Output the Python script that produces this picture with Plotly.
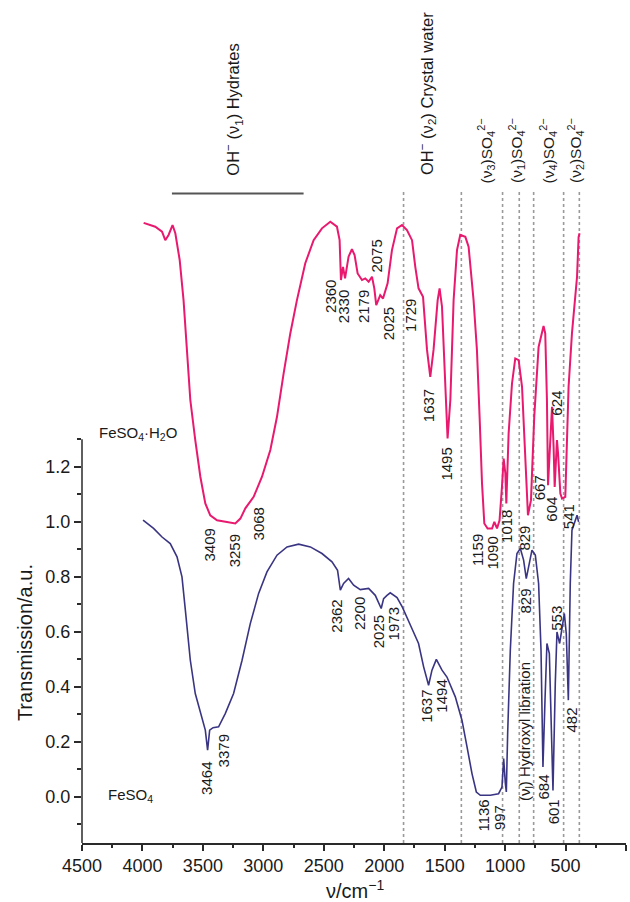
import plotly.graph_objects as go

# ---------------- data ----------------
h2o_wn = [3990, 3894, 3838, 3811, 3784, 3751, 3728, 3692, 3660, 3631, 3604, 3563, 3521, 3480, 3439,
          3383, 3300, 3232, 3190, 3149, 3080, 3011, 2942, 2887, 2832, 2777, 2722, 2653, 2584, 2515,
          2446, 2391, 2369, 2358, 2341, 2324, 2295, 2267, 2245, 2220, 2184, 2157, 2129, 2101, 2082,
          2066, 2033, 2010, 1972, 1936, 1894, 1853, 1812, 1770, 1743, 1716, 1679, 1646, 1619, 1592,
          1558, 1542, 1522, 1495, 1476, 1453, 1426, 1398, 1371, 1329, 1302, 1261, 1233, 1211, 1191,
          1172, 1145, 1108, 1089, 1067, 1046, 1026, 1012, 998, 990, 971, 943, 916, 888, 860,
          833, 811, 786, 759, 723, 695, 682, 668, 654, 645, 626, 612, 599, 590, 571,
          562, 543, 529, 502, 475, 447, 419, 405, 392, 384]
h2o_t = [2.087, 2.073, 2.055, 2.024, 2.043, 2.079, 2.049, 1.952, 1.806, 1.625, 1.443, 1.297, 1.164, 1.067, 1.024,
         1.006, 1.000, 0.994, 1.012, 1.049, 1.091, 1.164, 1.261, 1.382, 1.540, 1.685, 1.806, 1.940, 2.024, 2.067,
         2.091, 2.073, 2.024, 1.879, 1.927, 1.885, 1.964, 1.991, 1.970, 1.903, 1.879, 1.885, 1.873, 1.891, 1.849,
         1.788, 1.824, 1.812, 1.867, 1.988, 2.067, 2.079, 2.061, 2.024, 1.927, 1.849, 1.818, 1.625, 1.527, 1.625,
         1.806, 1.849, 1.782, 1.503, 1.303, 1.443, 1.806, 1.988, 2.043, 2.036, 2.000, 1.806, 1.625, 1.382, 1.140,
         0.994, 0.976, 0.976, 1.000, 0.976, 1.006, 1.127, 1.230, 1.176, 1.067, 1.321, 1.503, 1.594, 1.588, 1.491,
         1.200, 1.024, 1.079, 1.382, 1.636, 1.685, 1.712, 1.685, 1.443, 1.133, 1.321, 1.418, 1.273, 1.127, 1.297,
         1.249, 1.103, 1.085, 1.091, 1.491, 1.685, 1.831, 1.891, 2.036, 2.049]

fe_wn = [3995, 3908, 3838, 3770, 3714, 3673, 3645, 3604, 3563, 3516, 3480, 3461, 3444, 3416, 3370,
         3315, 3246, 3176, 3108, 3039, 2970, 2887, 2804, 2708, 2611, 2515, 2432, 2386, 2363, 2336,
         2295, 2253, 2198, 2129, 2074, 2025, 2005, 1977, 1950, 1894, 1850, 1784, 1716, 1674, 1633,
         1605, 1569, 1522, 1481, 1412, 1357, 1315, 1274, 1238, 1205, 1123, 1054, 1026, 1012, 998,
         990, 979, 957, 930, 902, 874, 847, 825, 797, 778, 750, 723, 703, 687, 670,
         654, 634, 620, 604, 585, 571, 549, 529, 510, 494, 477, 461, 447, 428, 405, 392]
fe_t = [1.006, 0.976, 0.945, 0.921, 0.873, 0.800, 0.679, 0.497, 0.376, 0.303, 0.243, 0.170, 0.243, 0.252, 0.255,
        0.303, 0.376, 0.497, 0.630, 0.740, 0.818, 0.879, 0.909, 0.919, 0.909, 0.885, 0.855, 0.824, 0.752, 0.776,
        0.794, 0.770, 0.754, 0.758, 0.733, 0.685, 0.721, 0.733, 0.742, 0.725, 0.690, 0.625, 0.558, 0.473, 0.406,
        0.461, 0.500, 0.461, 0.436, 0.364, 0.279, 0.182, 0.085, 0.018, 0.006, 0.006, 0.012, 0.036, 0.140, 0.049,
        0.018, 0.230, 0.533, 0.776, 0.885, 0.903, 0.861, 0.794, 0.855, 0.897, 0.879, 0.776, 0.533, 0.109, 0.352,
        0.558, 0.521, 0.291, 0.024, 0.412, 0.600, 0.558, 0.624, 0.667, 0.594, 0.352, 0.776, 0.970, 0.994, 1.024, 1.000]

band_lines = [1840, 1362, 1021, 883, 764, 516, 386]
x_tick_vals = [4500, 4000, 3500, 3000, 2500, 2000, 1500, 1000, 500, 0]
x_minor_vals = [4250, 3750, 3250, 2750, 2250, 1750, 1250, 750, 250]
y_tick_vals = [0.0, 0.2, 0.4, 0.6, 0.8, 1.0, 1.2]
y_minor_vals = [-0.1, 0.1, 0.3, 0.5, 0.7, 0.9, 1.1, 1.3]

h2o_labels = ["3409", "3259", "3068", "2360", "2330", "2179", "2075", "2025", "1729", "1637",
              "1495", "1159", "1090", "1018", "829", "667", "604", "541", "624"]
fe_labels = ["3464", "3379", "2362", "2200", "2025", "1973", "1637", "1494", "1136", "997",
             "829", "553", "684", "601", "482"]

# label placements (x in cm^-1, top of text in transmission units)
h2o_label_pos = [(3443, 0.984), (3236, 0.963), (3037, 1.061), (2446, 1.886), (2336, 1.850),
                 (2171, 1.850), (2060, 2.035), (1964, 1.788), (1784, 1.817), (1633, 1.490),
                 (1481, 1.279), (1233, 0.963), (1100, 0.952), (990, 1.050), (837, 0.995),
                 (715, 1.177), (612, 1.097), (475, 1.072), (571, 1.486)]
fe_label_pos = [(3466, 0.133), (3329, 0.235), (2391, 0.726), (2198, 0.733), (2047, 0.668),
                (1922, 0.697), (1646, 0.395), (1522, 0.432), (1180, -0.001), (1040, -0.023),
                (829, 0.766), (571, 0.704), (682, 0.089), (599, -0.001), (447, 0.334)]

PINK = "#e8196e"
NAVY = "#3a3583"
FONT = "Liberation Sans, Arial, Helvetica, sans-serif"
INK = "#1a1a1a"

fig = go.Figure()

# dotted band lines
for wn in band_lines:
    fig.add_shape(type="line", x0=wn, x1=wn, y0=-0.1673, y1=2.2, xref="x", yref="y",
                  line=dict(color="#9a9a9a", width=1.6, dash="dot"), layer="below")

fig.add_trace(go.Scatter(x=h2o_wn, y=h2o_t, mode="lines", line=dict(color=PINK, width=2),
                         showlegend=False, hoverinfo="skip"))
fig.add_trace(go.Scatter(x=fe_wn, y=fe_t, mode="lines", line=dict(color=NAVY, width=1.6),
                         showlegend=False, hoverinfo="skip"))

# y-axis line (partial)
fig.add_shape(type="line", x0=0, x1=0, xref="paper", y0=-0.1673, y1=1.30, yref="y",
              line=dict(color="#2a2a2a", width=1.5))
# hydrates bar
fig.add_shape(type="line", x0=3756, x1=2667, y0=2.194, y1=2.194, xref="x", yref="y",
              line=dict(color="#555555", width=2))

ann = []
lab_font = dict(family=FONT, size=15, color=INK)
for txt, (x, y) in zip(h2o_labels, h2o_label_pos):
    ann.append(dict(x=x, y=y, text=txt, textangle=-90, showarrow=False,
                    xanchor="center", yanchor="top", font=lab_font))
for txt, (x, y) in zip(fe_labels, fe_label_pos):
    ann.append(dict(x=x, y=y, text=txt, textangle=-90, showarrow=False,
                    xanchor="center", yanchor="top", font=lab_font))

ann.append(dict(x=833, y=0.497, text="(ν<sub>l</sub>) Hydroxyl libration", textangle=-90,
                showarrow=False, xanchor="center", yanchor="top", font=lab_font))

top_font = dict(family=FONT, size=16.5, color=INK)
ann.append(dict(x=3247, y=2.253, text="OH<sup>−</sup> (ν<sub>1</sub>) Hydrates", textangle=-90,
                showarrow=False, xanchor="center", yanchor="bottom", font=top_font))
ann.append(dict(x=1652, y=2.253, text="OH<sup>−</sup> (ν<sub>2</sub>) Crystal water", textangle=-90,
                showarrow=False, xanchor="center", yanchor="bottom", font=top_font))
so4_font = dict(family=FONT, size=15.5, color=INK)
for x, n in [(1160, "3"), (907, "1"), (647, "4"), (419, "2")]:
    ann.append(dict(x=x, y=2.224, text="(ν<sub>%s</sub>)SO<sub>4</sub><sup>2−</sup>" % n,
                    textangle=-90, showarrow=False, xanchor="center", yanchor="bottom",
                    font=so4_font))

ann.append(dict(x=4373, y=1.323, text="FeSO<sub>4</sub>·H<sub>2</sub>O", showarrow=False,
                xanchor="left", yanchor="middle", font=dict(family=FONT, size=15, color=INK)))
ann.append(dict(x=4299, y=0.006, text="FeSO<sub>4</sub>", showarrow=False,
                xanchor="left", yanchor="middle", font=dict(family=FONT, size=15, color=INK)))

ann.append(dict(x=0.502, y=-0.0555, xref="paper", yref="paper", text="ν/cm<sup>−1</sup>",
                showarrow=False, xanchor="center", yanchor="middle",
                font=dict(family=FONT, size=20, color=INK)))
ann.append(dict(x=-0.105, xref="paper", y=0.5625, yref="y", text="Transmission/a.u.",
                textangle=-90, showarrow=False, xanchor="center", yanchor="middle",
                font=dict(family=FONT, size=20, color=INK)))

fig.update_layout(
    width=630, height=902,
    margin=dict(l=82, r=4, t=0, b=59),
    paper_bgcolor="white", plot_bgcolor="white",
    annotations=ann,
    xaxis=dict(range=[4500, 0], tickmode="array", tickvals=x_tick_vals,
               ticks="outside", ticklen=6, tickwidth=1.5, tickcolor="#2a2a2a",
               showline=True, linecolor="#2a2a2a", linewidth=1.5,
               showgrid=False, zeroline=False,
               tickfont=dict(family=FONT, size=18, color=INK),
               minor=dict(tickvals=x_minor_vals,
                          ticks="outside", ticklen=3, tickwidth=1.5, tickcolor="#2a2a2a")),
    yaxis=dict(range=[-0.1673, 2.897], tickmode="array", tickvals=y_tick_vals,
               ticktext=["%.1f" % v for v in y_tick_vals],
               ticks="outside", ticklen=7, tickwidth=1.5, tickcolor="#2a2a2a",
               showline=False, showgrid=False, zeroline=False,
               tickfont=dict(family=FONT, size=18, color=INK),
               minor=dict(tickvals=y_minor_vals, ticks="outside", ticklen=4,
                          tickwidth=1.5, tickcolor="#2a2a2a")),
)

fig.write_html("out.html")
